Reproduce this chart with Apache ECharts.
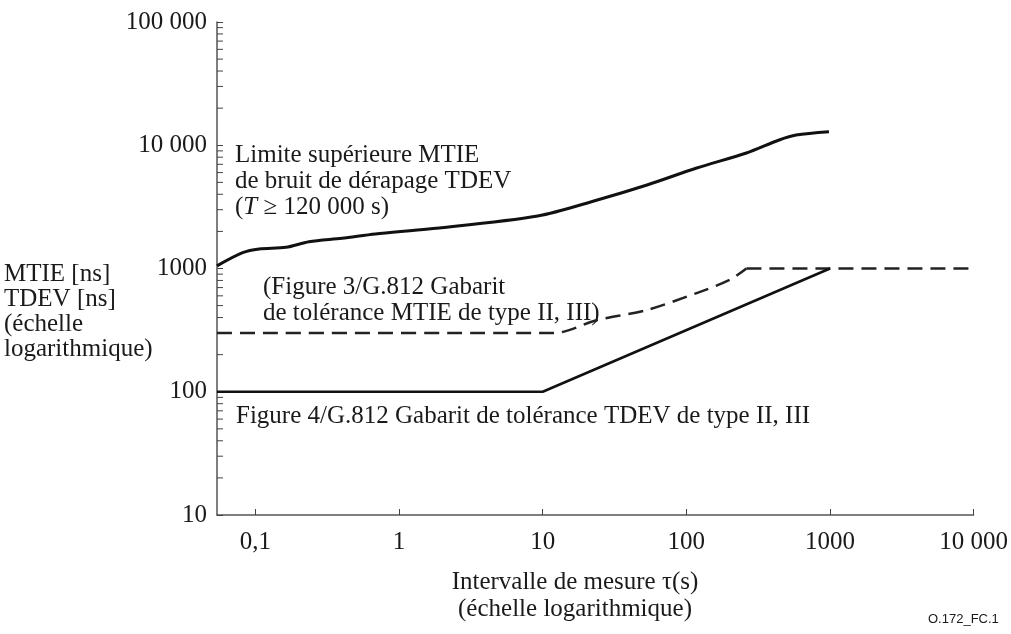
<!DOCTYPE html>
<html>
<head>
<meta charset="utf-8">
<script src="https://cdn.jsdelivr.net/npm/echarts@6/dist/echarts.min.js"></script>
<style>
html,body{margin:0;padding:0;background:#fff;}
#chart{width:1011px;height:634px;}
</style>
</head>
<body>
<div id="chart"></div>
<script>
// ---- Axis extents and tick labels ----
const X_MIN = 0.054, X_MAX = 10000;
const Y_MIN = 10, Y_MAX = 100000;
const xTickValues = [0.1, 1, 10, 100, 1000, 10000];
const xTickLabels = ['0,1', '1', '10', '100', '1000', '10 000'];
const yTickValues = [10, 100, 1000, 10000, 100000];
const yTickLabels = ['10', '100', '1000', '10 000', '100 000'];
const yMinorTicks = [20, 30, 40, 50, 60, 70, 80, 90,
                     200, 300, 400, 500, 600, 700, 800, 900,
                     2000, 3000, 4000, 5000, 6000, 7000, 8000, 9000,
                     20000, 30000, 40000, 50000, 60000, 70000, 80000, 90000];

// ---- Series data ----
// Upper MTIE limit of TDEV wander noise (T >= 120 000 s)
const upperTau = [0.054, 0.0815, 0.106, 0.163, 0.236, 0.401, 0.684, 1.6, 9.22, 24, 53.2, 118, 262, 443, 581, 984];
const upperVal = [1050, 1343, 1439, 1486, 1650, 1758, 1905, 2092, 2667, 3597, 4757, 6536, 8650, 11035, 12110, 12880];
// Figure 3/G.812 MTIE tolerance mask (dashed): curved part, then flat part
const mtieMaskTau = [0.054, 12.1, 24, 53, 118, 200, 262];
const mtieMaskVal = [300, 300, 382, 460, 632, 807, 1000];
const mtieFlatTau = [262, 10000];
const mtieFlatVal = [1000, 1000];
// Figure 4/G.812 TDEV tolerance mask (solid)
const tdevMaskTau = [0.054, 10, 1000];
const tdevMaskVal = [100, 100, 1000];

const SERIF = '"Liberation Serif", "Times New Roman", serif';
const FS = 25;

function zip(a, b) { return a.map((v, i) => [v, b[i]]); }
function labelFor(values, labels) {
  return function (v) {
    for (let i = 0; i < values.length; i++) {
      if (Math.abs(Math.log10(v) - Math.log10(values[i])) < 1e-6) return labels[i];
    }
    return '';
  };
}

const chart = echarts.init(document.getElementById('chart'), null, {renderer: 'canvas'});
const option = {
  backgroundColor: '#fff',
  animation: false,
  grid: {left: 217, right: 34, top: 22, bottom: 119, containLabel: false},
  xAxis: {
    type: 'log', logBase: 10, min: X_MIN, max: X_MAX,
    axisLine: {show: true, lineStyle: {color: '#555', width: 1.5}},
    axisTick: {show: true, inside: true, length: 6, lineStyle: {color: '#444', width: 1}},
    axisLabel: {margin: 15, color: '#1a1a1a', fontFamily: SERIF, fontSize: FS,
      showMinLabel: false, showMaxLabel: true,
      formatter: labelFor(xTickValues, xTickLabels)},
    splitLine: {show: false},
    minorTick: {show: false}
  },
  yAxis: {
    type: 'log', logBase: 10, min: Y_MIN, max: Y_MAX,
    axisLine: {show: true, lineStyle: {color: '#555', width: 1.5}},
    axisTick: {show: true, inside: true, length: 6, lineStyle: {color: '#444', width: 1}},
    axisLabel: {margin: 10, color: '#1a1a1a', fontFamily: SERIF, fontSize: FS,
      formatter: labelFor(yTickValues, yTickLabels)},
    splitLine: {show: false}
  },
  series: [
    {
      type: 'custom', name: 'minorTicks', silent: true, clip: false,
      data: yMinorTicks.map(v => [X_MIN, v]),
      renderItem: function (params, api) {
        const p = api.coord([api.value(0), api.value(1)]);
        return {type: 'line', shape: {x1: p[0], y1: p[1], x2: p[0] + 6, y2: p[1]},
                style: {stroke: '#444', lineWidth: 1}};
      }
    },
    {
      type: 'line', name: 'upper', data: zip(upperTau, upperVal), showSymbol: false,
      smooth: 0.3,
      lineStyle: {color: '#111', width: 3}, silent: true
    },
    {
      type: 'line', name: 'mtieMask', data: zip(mtieMaskTau, mtieMaskVal), showSymbol: false,
      smooth: 0.3,
      lineStyle: {color: '#222', width: 2.5, type: [15, 8]}, silent: true
    },
    {
      type: 'line', name: 'mtieFlat', data: zip(mtieFlatTau, mtieFlatVal), showSymbol: false,
      lineStyle: {color: '#222', width: 2.5, type: [15, 8]}, silent: true
    },
    {
      type: 'line', name: 'tdevMask', data: zip(tdevMaskTau, tdevMaskVal), showSymbol: false,
      lineStyle: {color: '#111', width: 2.5}, silent: true
    }
  ],
  graphic: [
    {type: 'text', x: 4, y: 262, silent: true,
     style: {text: 'MTIE [ns]\nTDEV [ns]\n(échelle\nlogarithmique)', font: FS + 'px ' + SERIF,
             lineHeight: 25, fill: '#1a1a1a'}},
    {type: 'text', x: 235, y: 142, silent: true,
     style: {text: 'Limite supérieure MTIE\nde bruit de dérapage TDEV\n({it|T} ≥ 120 000 s)',
             font: FS + 'px ' + SERIF, lineHeight: 26, fill: '#1a1a1a',
             rich: {it: {fontStyle: 'italic', fontFamily: SERIF, fontSize: FS, lineHeight: 26, fill: '#1a1a1a'}}}},
    {type: 'text', x: 263, y: 274, silent: true,
     style: {text: '(Figure 3/G.812 Gabarit\nde tolérance MTIE de type II, III)',
             font: FS + 'px ' + SERIF, lineHeight: 26, fill: '#1a1a1a'}},
    {type: 'text', x: 236, y: 403, silent: true,
     style: {text: 'Figure 4/G.812 Gabarit de tolérance TDEV de type II, III',
             font: FS + 'px ' + SERIF, lineHeight: 26, fill: '#1a1a1a'}},
    {type: 'text', x: 575, y: 569, silent: true,
     style: {text: 'Intervalle de mesure τ(s)\n(échelle logarithmique)', align: 'center',
             font: FS + 'px ' + SERIF, lineHeight: 27, fill: '#1a1a1a'}},
    {type: 'text', x: 928, y: 613, silent: true,
     style: {text: 'O.172_FC.1', font: '13px "Liberation Sans", Arial, sans-serif', fill: '#1a1a1a'}}
  ]
};
chart.setOption(option);
</script>
</body>
</html>
